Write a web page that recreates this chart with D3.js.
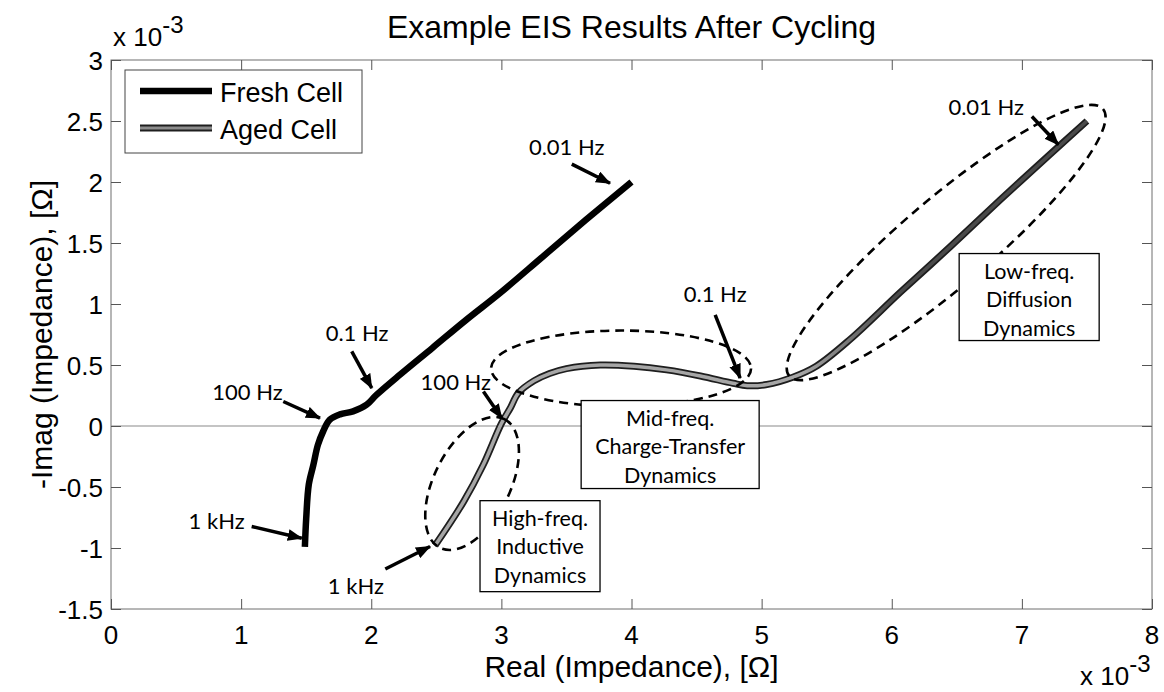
<!DOCTYPE html>
<html><head><meta charset="utf-8">
<script src="https://cdn.jsdelivr.net/npm/d3@7"></script>
<style>
html,body{margin:0;padding:0;background:#fff;}
svg{display:block;}
</style></head>
<body>
<svg id="chart" width="1164" height="692"></svg>
<script>
// Nyquist curves: real part and -imag part, in units of 1e-3 ohm
const freshReal = [1.49,1.50,1.52,1.555,1.59,1.63,1.68,1.76,1.86,1.965,2.04,2.22,2.47,2.73,2.99,3.32,3.65,4.0];
const freshImag = [-0.99,-0.76,-0.48,-0.32,-0.155,-0.045,0.05,0.095,0.12,0.175,0.255,0.42,0.64,0.87,1.09,1.39,1.69,2.0];
const agedReal = [2.49,2.71,2.86,3.0,3.07,3.13,3.25,3.37,3.5,3.76,4.02,4.27,4.53,4.78,4.89,5.04,5.24,5.42,5.68,6.07,6.45,6.83,7.22,7.5];
const agedImag = [-0.98,-0.62,-0.32,0.02,0.15,0.27,0.37,0.43,0.47,0.50,0.49,0.46,0.41,0.35,0.33,0.34,0.40,0.49,0.71,1.10,1.47,1.85,2.23,2.5];

const seriesNames = ["Fresh Cell", "Aged Cell"];
const xTicks = [0,1,2,3,4,5,6,7,8];
const yTicks = [-1.5,-1,-0.5,0,0.5,1,1.5,2,2.5,3];

// frequency call-outs (data units)
const freqLabels    = ["0.01 Hz","0.1 Hz","100 Hz","1 kHz","100 Hz","1 kHz","0.1 Hz","0.01 Hz"];
const freqLabelAt   = [[3.502,2.225],[1.891,0.693],[1.049,0.215],[0.812,-0.848],[2.650,0.297],[1.882,-1.373],[4.643,1.020],[6.726,2.551]];
const freqArrowFrom = [[3.541,2.146],[1.850,0.611],[1.324,0.201],[1.081,-0.824],[2.862,0.283],[2.108,-1.172],[4.643,0.911],[7.077,2.537]];
const freqArrowTo   = [[3.835,1.990],[2.004,0.310],[1.606,0.064],[1.466,-0.920],[3.003,0.064],[2.452,-0.988],[4.835,0.392],[7.281,2.305]];

// dynamic regions: circled part of the aged curve and its caption box
const regionLines   = [["High-freq.","Inductive","Dynamics"],["Mid-freq.","Charge-Transfer","Dynamics"],["Low-freq.","Diffusion","Dynamics"]];
const regionCenter  = [[2.775,-0.471],[3.920,0.471],[6.418,1.504]];
const regionBoxAt   = [[3.297,-0.985],[4.297,-0.152],[7.056,1.057]];

// layout
const W = 1164, H = 692;
const M = {left:111, right:1152, top:60, bottom:609};
const ellipseShape = [{a:72,b:38,rot:-63.4},{a:130,b:38,rot:0},{a:206,b:44,rot:-40.4}];
const boxSize = [[120,91],[178,88],[140,87]];
const axisFont = "'Liberation Sans', Arial, Helvetica, sans-serif";
const noteFont = "Lato, 'Open Sans', sans-serif";

const svg = d3.select("#chart");
const x = d3.scaleLinear().domain([0,8]).range([M.left, M.right]);
const y = d3.scaleLinear().domain([-1.5,3]).range([M.bottom, M.top]);

const defs = svg.append("defs");
defs.append("marker").attr("id","head")
  .attr("markerUnits","userSpaceOnUse")
  .attr("markerWidth",15).attr("markerHeight",12)
  .attr("refX",14).attr("refY",6).attr("orient","auto")
  .append("path").attr("d","M0,0 L15,6 L0,12 Z").attr("fill","#000");

const grad = defs.append("linearGradient").attr("id","agedCore")
  .attr("gradientUnits","userSpaceOnUse")
  .attr("x1",x(5.3)).attr("x2",x(6.0)).attr("y1",0).attr("y2",0);
grad.append("stop").attr("offset",0).attr("stop-color","#a6a6a6");
grad.append("stop").attr("offset",1).attr("stop-color","#4a4a4a");

// axes box
const gAx = svg.append("g");
gAx.append("rect").attr("x",M.left).attr("y",M.top)
  .attr("width",M.right-M.left).attr("height",M.bottom-M.top)
  .attr("fill","none").attr("stroke","#6e6e6e").attr("stroke-width",1);

// zero line
gAx.append("line").attr("x1",x(0)).attr("x2",x(8)).attr("y1",y(0)).attr("y2",y(0))
  .attr("stroke","#8a8a8a").attr("stroke-width",1.2);

// inward ticks via d3 axes
const tickLen = 10;
function styleAxis(g){ g.select(".domain").remove();
  g.selectAll(".tick line").attr("stroke","#555").attr("stroke-width",1);
  g.selectAll(".tick text").remove(); }
svg.append("g").attr("transform",`translate(0,${M.bottom})`)
  .call(d3.axisTop(x).tickValues(xTicks).tickSize(tickLen)).call(styleAxis);
svg.append("g").attr("transform",`translate(0,${M.top})`)
  .call(d3.axisBottom(x).tickValues(xTicks).tickSize(tickLen)).call(styleAxis);
svg.append("g").attr("transform",`translate(${M.left},0)`)
  .call(d3.axisRight(y).tickValues(yTicks).tickSize(tickLen)).call(styleAxis);
svg.append("g").attr("transform",`translate(${M.right},0)`)
  .call(d3.axisLeft(y).tickValues(yTicks).tickSize(tickLen)).call(styleAxis);

const fmt = v => d3.format("")(v).replace("\u2212","-");
// tick labels
svg.append("g").selectAll("text").data(xTicks).join("text")
  .attr("x",d=>x(d)).attr("y",M.bottom+35).attr("text-anchor","middle")
  .attr("font-family",axisFont).attr("font-size",26).text(fmt);
svg.append("g").selectAll("text").data(yTicks).join("text")
  .attr("x",M.left-8).attr("y",d=>y(d)+9.5).attr("text-anchor","end")
  .attr("font-family",axisFont).attr("font-size",26).text(fmt);

// exponent markers
function expo(xp, yb){
  const t = svg.append("text").attr("x",xp).attr("y",yb)
    .attr("font-family",axisFont).attr("font-size",26);
  t.append("tspan").text("x 10");
  t.append("tspan").attr("dy",-13).attr("font-size",24).text("-3");
}
expo(113, 46);
expo(1080, 685);

// title and axis labels
svg.append("text").attr("x",(M.left+M.right)/2).attr("y",38).attr("text-anchor","middle")
  .attr("font-family",axisFont).attr("font-size",32).text("Example EIS Results After Cycling");
svg.append("text").attr("x",(M.left+M.right)/2).attr("y",677).attr("text-anchor","middle")
  .attr("font-family",axisFont).attr("font-size",30).text("Real (Impedance), [\u03A9]");
svg.append("text").attr("transform",`translate(52,${(M.top+M.bottom)/2}) rotate(-90)`)
  .attr("text-anchor","middle")
  .attr("font-family",axisFont).attr("font-size",30).text("-Imag (Impedance), [\u03A9]");

// curves
const line = d3.line().x(d=>x(d[0])).y(d=>y(d[1])).curve(d3.curveCatmullRom.alpha(0.5));
const fresh = freshReal.map((v,i)=>[v,freshImag[i]]);
const aged = agedReal.map((v,i)=>[v,agedImag[i]]);
svg.append("path").attr("d",line(fresh)).attr("fill","none")
  .attr("stroke","#000").attr("stroke-width",6.5).attr("stroke-linejoin","round");
svg.append("path").attr("d",line(aged)).attr("fill","none")
  .attr("stroke","#1e1e1e").attr("stroke-width",7).attr("stroke-linejoin","round");
svg.append("path").attr("d",line(aged)).attr("fill","none")
  .attr("stroke","url(#agedCore)").attr("stroke-width",3.5).attr("stroke-linejoin","round");

// region ellipses
const ell = svg.append("g");
regionCenter.forEach((c,i)=>{
  const s = ellipseShape[i];
  ell.append("ellipse").attr("cx",0).attr("cy",0).attr("rx",s.a).attr("ry",s.b)
    .attr("transform",`translate(${x(c[0])},${y(c[1])}) rotate(${s.rot})`)
    .attr("fill","none").attr("stroke","#000").attr("stroke-width",2.6)
    .attr("stroke-dasharray","9,6");
});

// region caption boxes
regionBoxAt.forEach((c,i)=>{
  const [bw,bh] = boxSize[i];
  const cx = x(c[0]), cy = y(c[1]);
  const g = svg.append("g");
  g.append("rect").attr("x",cx-bw/2).attr("y",cy-bh/2).attr("width",bw).attr("height",bh)
    .attr("fill","#fff").attr("stroke","#000").attr("stroke-width",1.3);
  regionLines[i].forEach((t,k)=>{
    g.append("text").attr("x",cx).attr("y",cy-bh/2+25+k*28.5).attr("text-anchor","middle")
      .attr("font-family",noteFont).attr("font-size",21.5).attr("fill","#000").text(t);
  });
});

// frequency arrows and labels
freqLabels.forEach((t,i)=>{
  const a = freqArrowFrom[i], b = freqArrowTo[i];
  const x1=x(a[0]), y1=y(a[1]), x2=x(b[0]), y2=y(b[1]);
  svg.append("line").attr("x1",x1).attr("y1",y1).attr("x2",x2).attr("y2",y2)
    .attr("stroke","#000").attr("stroke-width",3.5).attr("marker-end","url(#head)");
  svg.append("text").attr("x",x(freqLabelAt[i][0])).attr("y",y(freqLabelAt[i][1]))
    .attr("text-anchor","middle").attr("font-family",noteFont).attr("font-size",22)
    .text(t);
});

// legend
const lg = svg.append("g");
lg.append("rect").attr("x",125).attr("y",70).attr("width",237).attr("height",83)
  .attr("fill","#fff").attr("stroke","#444").attr("stroke-width",1);
const legY = [91,128];
seriesNames.forEach((n,i)=>{
  if(i===0){
    lg.append("line").attr("x1",140).attr("x2",212).attr("y1",legY[i]).attr("y2",legY[i])
      .attr("stroke","#000").attr("stroke-width",6.5);
  } else {
    lg.append("line").attr("x1",140).attr("x2",212).attr("y1",legY[i]).attr("y2",legY[i])
      .attr("stroke","#1e1e1e").attr("stroke-width",7);
    lg.append("line").attr("x1",140).attr("x2",212).attr("y1",legY[i]).attr("y2",legY[i])
      .attr("stroke","#8c8c8c").attr("stroke-width",3);
  }
  lg.append("text").attr("x",220).attr("y",legY[i]+11).attr("font-family",axisFont)
    .attr("font-size",27).text(n);
});
</script>
</body></html>
